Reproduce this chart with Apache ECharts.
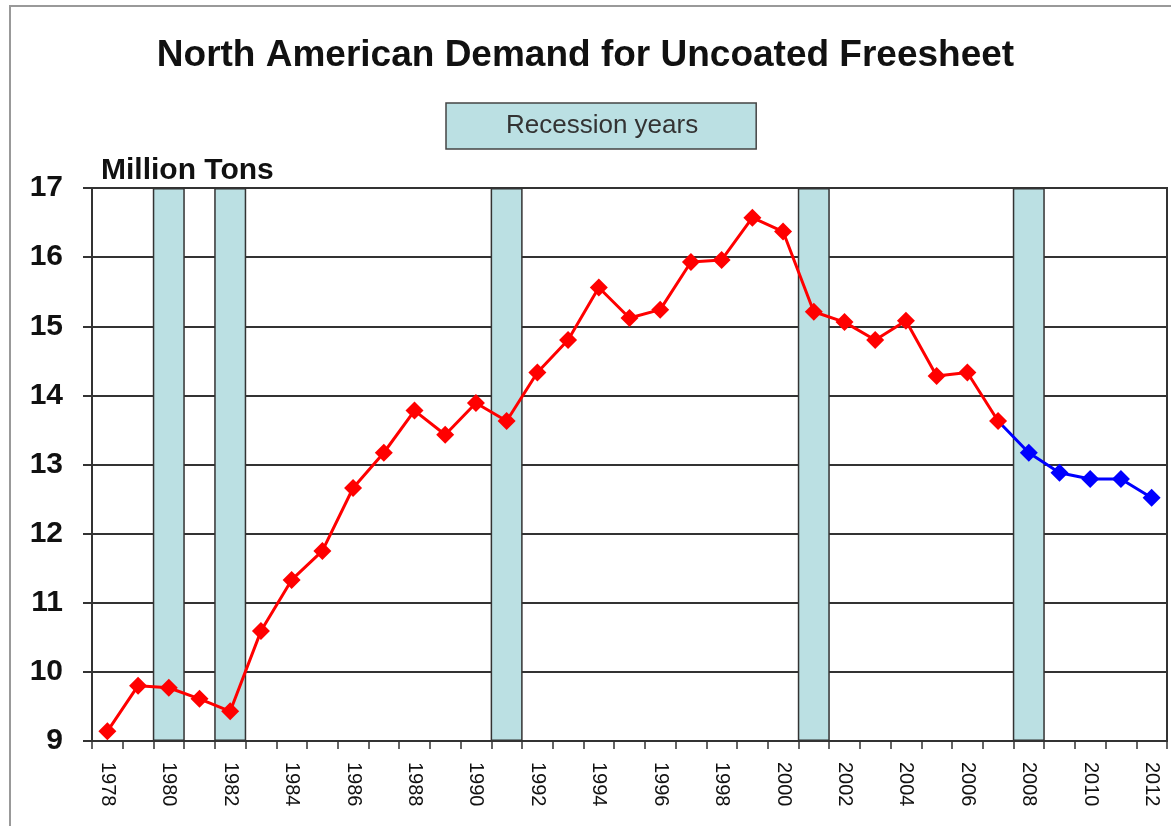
<!DOCTYPE html>
<html>
<head>
<meta charset="utf-8">
<script src="https://cdn.jsdelivr.net/npm/echarts@6/dist/echarts.min.js"></script>
<style>
html,body{margin:0;padding:0;background:#fff;}
#chart{width:1171px;height:826px;}
</style>
</head>
<body>
<div id="chart"></div>
<script>
var years = ['1978','1979','1980','1981','1982','1983','1984','1985','1986','1987','1988','1989','1990','1991','1992','1993','1994','1995','1996','1997','1998','1999','2000','2001','2002','2003','2004','2005','2006','2007','2008','2009','2010','2011','2012'];
// Historical demand 1978-2007 (red)
var historicalYears = ['1978','1979','1980','1981','1982','1983','1984','1985','1986','1987','1988','1989','1990','1991','1992','1993','1994','1995','1996','1997','1998','1999','2000','2001','2002','2003','2004','2005','2006','2007'];
var historicalValues = [9.14,9.80,9.77,9.61,9.43,10.59,11.33,11.75,12.66,13.17,13.78,13.43,13.89,13.63,14.33,14.80,15.56,15.12,15.24,15.93,15.96,16.57,16.37,15.21,15.06,14.80,15.08,14.28,14.33,13.63];
// Forecast 2007-2012 (blue), starting from the last historical point
var forecastYears = ['2007','2008','2009','2010','2011','2012'];
var forecastValues = [13.63,13.17,12.88,12.79,12.79,12.52];
var recessionYears = ['1980','1982','1991','2001','2008'];
var yTicks = [9,10,11,12,13,14,15,16,17];

function seriesData(srcYears, srcValues) {
  return years.map(function (y) {
    var i = srcYears.indexOf(y);
    return i >= 0 ? srcValues[i] : '-';
  });
}
var redData = seriesData(historicalYears, historicalValues);
var blueData = seriesData(forecastYears, forecastValues).map(function (v, i) {
  if (years[i] === forecastYears[0]) return { value: v, symbol: 'none' };
  return v;
});
var recessionData = years.map(function (y) {
  return recessionYears.indexOf(y) >= 0 ? 1 : '-';
});

var chart = echarts.init(document.getElementById('chart'));
var FONT = '"Liberation Sans", Arial, sans-serif';
chart.setOption({
  backgroundColor: '#fff',
  animation: false,
  title: {
    text: 'North American Demand for Uncoated Freesheet',
    left: 'center',
    top: 32,
    textStyle: { fontFamily: FONT, fontSize: 37, fontWeight: 'bold', color: '#111' }
  },
  legend: {
    data: [{ name: 'Recession years', icon: 'rect', itemStyle: { color: 'transparent', borderWidth: 0, opacity: 0 } }],
    left: 446,
    top: 103,
    itemWidth: 0,
    itemHeight: 26,
    selectedMode: false,
    backgroundColor: '#BBE0E3',
    borderColor: '#444',
    borderWidth: 1.5,
    borderRadius: 0,
    padding: [10, 58, 10, 55],
    textStyle: { fontFamily: FONT, fontSize: 26, color: '#333' }
  },
  graphic: [{
    type: 'rect',
    shape: { x: 10, y: 6, width: 1200, height: 900 },
    style: { fill: 'none', stroke: '#999', lineWidth: 2 },
    silent: true
  }],
  grid: {
    left: 92, right: 4, top: 188, bottom: 85,
    show: true, borderColor: '#333', borderWidth: 2, backgroundColor: 'transparent'
  },
  xAxis: {
    type: 'category',
    data: years,
    boundaryGap: true,
    axisLine: { lineStyle: { color: '#333', width: 2 } },
    axisTick: { show: true, interval: 0, length: 8, lineStyle: { color: '#333', width: 1.5 } },
    axisLabel: {
      interval: 1, rotate: -90, margin: 21,
      fontFamily: FONT, fontSize: 20, color: '#111'
    }
  },
  yAxis: [{
    type: 'value',
    min: yTicks[0], max: yTicks[yTicks.length - 1], interval: 1,
    name: 'Million Tons',
    nameLocation: 'end',
    nameGap: 2,
    nameTextStyle: { fontFamily: FONT, fontSize: 30, fontWeight: 'bold', color: '#111', align: 'left', padding: [0, 0, 0, 9] },
    axisLine: { show: true, lineStyle: { color: '#333', width: 2 } },
    axisTick: { show: true, length: 9, lineStyle: { color: '#333', width: 2 } },
    axisLabel: { margin: 29, fontFamily: FONT, fontSize: 30, fontWeight: 'bold', color: '#111' },
    splitLine: { show: true, lineStyle: { color: '#333', width: 2 } }
  }, {
    type: 'value', min: 0, max: 1, show: false,
    splitLine: { show: false }
  }],
  series: [{
    name: 'Recession years',
    type: 'bar',
    yAxisIndex: 1,
    data: recessionData,
    barWidth: 32,
    itemStyle: { color: '#BBE0E3', borderColor: '#333', borderWidth: 1.5 },
    z: 1
  }, {
    name: 'Forecast',
    type: 'line',
    data: blueData,
    symbol: 'diamond',
    symbolSize: 18,
    lineStyle: { color: '#0000FF', width: 3 },
    itemStyle: { color: '#0000FF' },
    z: 3
  }, {
    name: 'Demand',
    type: 'line',
    data: redData,
    symbol: 'diamond',
    symbolSize: 18,
    lineStyle: { color: '#FF0000', width: 3 },
    itemStyle: { color: '#FF0000' },
    z: 4
  }]
});
</script>
</body>
</html>
